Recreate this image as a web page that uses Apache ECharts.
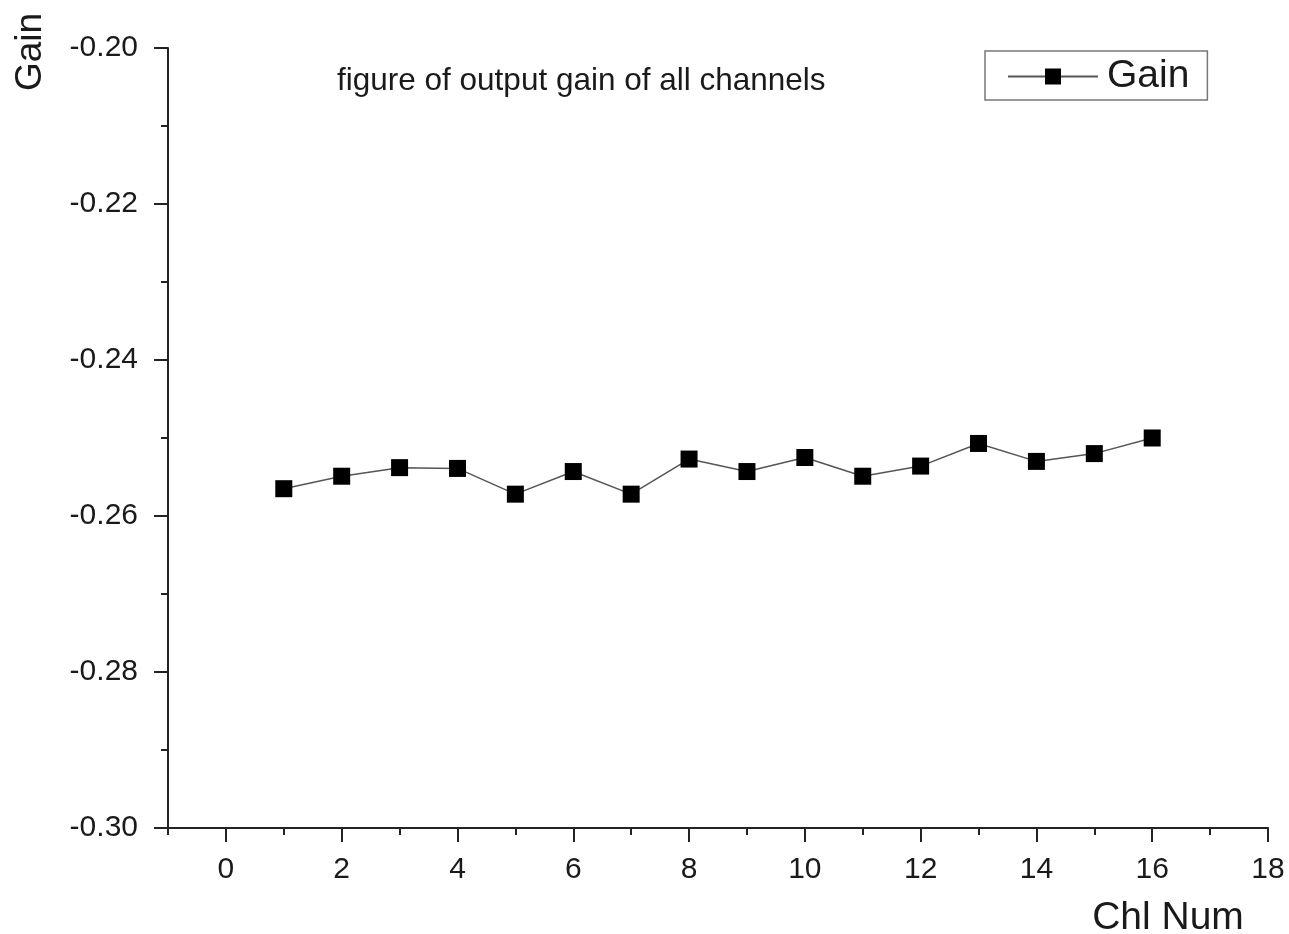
<!DOCTYPE html>
<html>
<head>
<meta charset="utf-8">
<script src="https://cdn.jsdelivr.net/npm/echarts@6/dist/echarts.min.js"></script>
<style>
html,body{margin:0;padding:0;background:#fff;}
#chart{width:1289px;height:934px;}
</style>
</head>
<body>
<div id="chart"></div>
<script>
const channels = [1, 2, 3, 4, 5, 6, 7, 8, 9, 10, 11, 12, 13, 14, 15, 16];
const gain = [-0.2565, -0.2549, -0.2538, -0.2539, -0.2572, -0.2543, -0.2572, -0.2527,
              -0.2543, -0.2525, -0.2549, -0.2536, -0.2507, -0.2530, -0.2520, -0.2500];
const seriesName = 'Gain';
const titleText = 'figure of output gain of all channels';
const xName = 'Chl Num';
const yName = 'Gain';

const FONT = '"Liberation Sans", Arial, sans-serif';
const chart = echarts.init(document.getElementById('chart'), null, {renderer: 'canvas'});

const GL = 168, GR = 21, GT = 48, GB = 106;
const unit = (1289 - GL - GR) / 19;

chart.setOption({
  animation: false,
  backgroundColor: '#fff',
  title: {
    text: titleText, left: 332, top: 60,
    textStyle: {fontFamily: FONT, fontSize: 31.5, fontWeight: 'normal', color: '#1a1a1a'}
  },
  legend: {
    data: [seriesName], left: 985, top: 51,
    orient: 'horizontal',
    itemWidth: 90, itemHeight: 20, itemGap: 0,
    padding: [6, 18, 4, 22],
    borderColor: '#777', borderWidth: 1.5,
    textStyle: {fontFamily: FONT, fontSize: 39, color: '#1a1a1a', padding: [6, 0, 0, 4]}
  },
  grid: [
    {left: GL, right: GR, top: GT, bottom: GB, containLabel: false},
    {left: GL + unit, right: GR, top: GT, bottom: GB, containLabel: false}
  ],
  xAxis: [
    {
      type: 'value', gridIndex: 0, min: -1, max: 18, interval: 1,
      axisLine: {show: true, onZero: false, lineStyle: {color: '#222', width: 2}},
      axisTick: {show: true, inside: false, length: 7, lineStyle: {color: '#222', width: 2}},
      axisLabel: {show: false},
      splitLine: {show: false}
    },
    {
      type: 'value', gridIndex: 1, min: 0, max: 18, interval: 2,
      axisLine: {show: false, onZero: false},
      axisTick: {show: true, inside: false, length: 14, lineStyle: {color: '#222', width: 2}},
      axisLabel: {show: true, margin: 27, fontFamily: FONT, fontSize: 30, color: '#1a1a1a'},
      splitLine: {show: false}
    }
  ],
  yAxis: [
    {
      type: 'value', gridIndex: 0, min: -0.30, max: -0.20, interval: 0.02,
      axisLine: {show: true, onZero: false, lineStyle: {color: '#222', width: 2}},
      axisTick: {show: true, inside: false, length: 14, lineStyle: {color: '#222', width: 2}},
      minorTick: {show: true, splitNumber: 2, length: 7, lineStyle: {color: '#222', width: 2}},
      axisLabel: {show: true, margin: 30, fontFamily: FONT, fontSize: 30, color: '#1a1a1a',
        formatter: v => v.toFixed(2)},
      splitLine: {show: false}
    },
    {
      type: 'value', gridIndex: 1, min: -0.30, max: -0.20, show: false
    }
  ],
  graphic: [
    {type: 'text', x: 31, y: 52, rotation: Math.PI / 2,
      style: {text: yName, font: '37px ' + FONT, fill: '#1a1a1a', align: 'center', verticalAlign: 'middle'}},
    {type: 'text', x: 1168, y: 918,
      style: {text: xName, font: '39px ' + FONT, fill: '#1a1a1a', align: 'center', verticalAlign: 'middle'}}
  ],
  series: [{
    name: seriesName, type: 'line', xAxisIndex: 0, yAxisIndex: 0,
    data: channels.map((c, i) => [c, gain[i]]),
    symbol: 'rect', symbolSize: 17,
    itemStyle: {color: '#000'},
    lineStyle: {color: '#555', width: 1.5}
  }]
});
</script>
</body>
</html>
